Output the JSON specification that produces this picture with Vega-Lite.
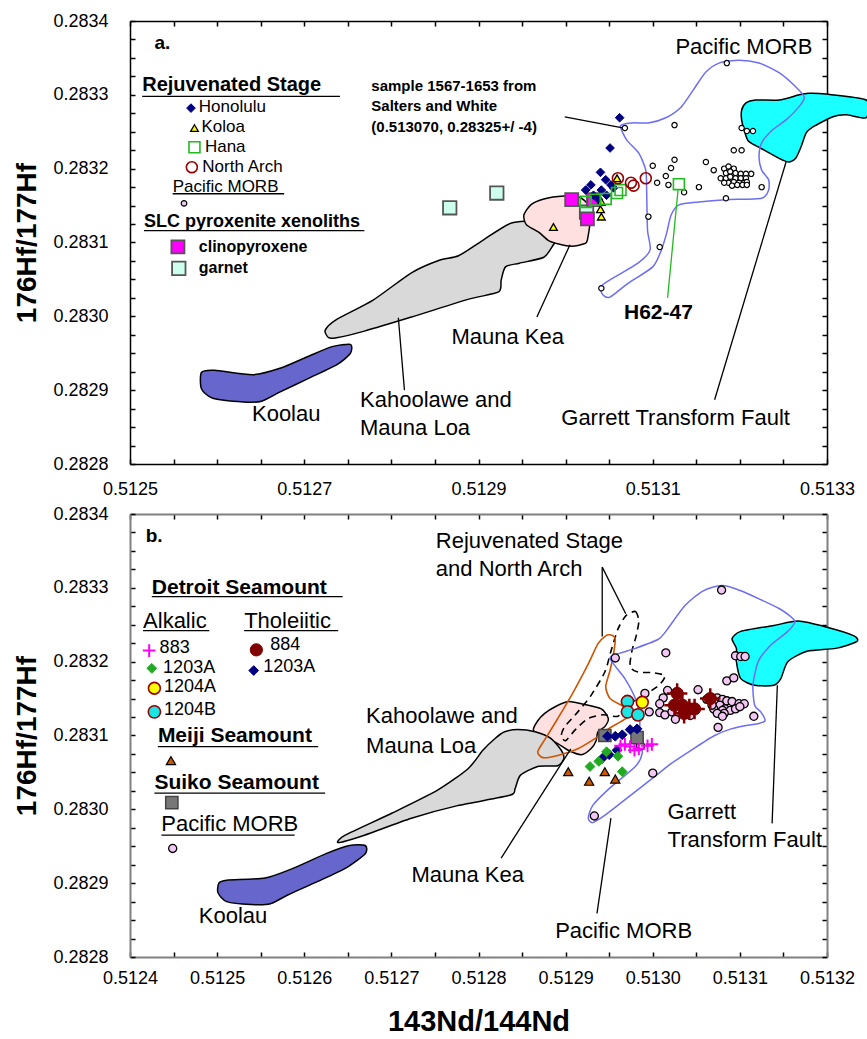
{
"$schema": "https://vega.github.io/schema/vega-lite/v6.json",
"padding": {"left": 13, "top": 12, "right": 0, "bottom": 0},
"spacing": 7,
"config": {"view": {"stroke": null}, "font": "Liberation Sans",
  "axis": {"grid": false, "labelFont": "Liberation Sans", "titleFont": "Liberation Sans", "labelColor": "black", "titleColor": "black", "labelOverlap": false, "labelFlush": false, "labelFontSize": 18, "tickColor": "black", "domainColor": "black", "tickSize": -5, "tickWidth": 1.5, "domainWidth": 1.5}},
"datasets": {
"polyA": [
{"s":"koolau","o":1,"x":0.512582,"y":0.282924},{"s":"koolau","o":2,"x":0.512597,"y":0.282927},{"s":"koolau","o":3,"x":0.512641,"y":0.282921},{"s":"koolau","o":4,"x":0.512673,"y":0.28293},{"s":"koolau","o":5,"x":0.512705,"y":0.282946},{"s":"koolau","o":6,"x":0.512732,"y":0.282959},{"s":"koolau","o":7,"x":0.512753,"y":0.282962},{"s":"koolau","o":8,"x":0.512753,"y":0.28295},{"s":"koolau","o":9,"x":0.512738,"y":0.282935},{"s":"koolau","o":10,"x":0.512705,"y":0.282916},{"s":"koolau","o":11,"x":0.512673,"y":0.282898},{"s":"koolau","o":12,"x":0.512651,"y":0.282885},{"s":"koolau","o":13,"x":0.51263,"y":0.282884},{"s":"koolau","o":14,"x":0.512595,"y":0.282889},{"s":"koolau","o":15,"x":0.512582,"y":0.282902},
{"s":"gray","o":1,"x":0.512728,"y":0.282971},{"s":"gray","o":2,"x":0.512724,"y":0.282981},{"s":"gray","o":3,"x":0.512736,"y":0.282995},{"s":"gray","o":4,"x":0.512779,"y":0.283022},{"s":"gray","o":5,"x":0.512823,"y":0.283059},{"s":"gray","o":6,"x":0.512855,"y":0.283076},{"s":"gray","o":7,"x":0.512877,"y":0.283082},{"s":"gray","o":8,"x":0.512905,"y":0.283103},{"s":"gray","o":9,"x":0.512937,"y":0.283126},{"s":"gray","o":10,"x":0.512969,"y":0.283128},{"s":"gray","o":11,"x":0.512992,"y":0.28311},{"s":"gray","o":12,"x":0.512986,"y":0.283097},{"s":"gray","o":13,"x":0.512975,"y":0.28308},{"s":"gray","o":14,"x":0.512947,"y":0.283072},{"s":"gray","o":15,"x":0.512931,"y":0.283067},{"s":"gray","o":16,"x":0.512926,"y":0.283049},{"s":"gray","o":17,"x":0.512923,"y":0.283033},{"s":"gray","o":18,"x":0.512888,"y":0.283023},{"s":"gray","o":19,"x":0.512823,"y":0.282999},{"s":"gray","o":20,"x":0.512769,"y":0.28298},{"s":"gray","o":21,"x":0.512737,"y":0.282971},
{"s":"pink","o":1,"x":0.512952,"y":0.283137},{"s":"pink","o":2,"x":0.51296,"y":0.283151},{"s":"pink","o":3,"x":0.512975,"y":0.283159},{"s":"pink","o":4,"x":0.512998,"y":0.283163},{"s":"pink","o":5,"x":0.513015,"y":0.283162},{"s":"pink","o":6,"x":0.513026,"y":0.283151},{"s":"pink","o":7,"x":0.513028,"y":0.28313},{"s":"pink","o":8,"x":0.513026,"y":0.28311},{"s":"pink","o":9,"x":0.513023,"y":0.283099},{"s":"pink","o":10,"x":0.513007,"y":0.283095},{"s":"pink","o":11,"x":0.512992,"y":0.283098},{"s":"pink","o":12,"x":0.51298,"y":0.283103},{"s":"pink","o":13,"x":0.512969,"y":0.283114},{"s":"pink","o":14,"x":0.512955,"y":0.283124},
{"s":"cyan","o":1,"x":0.513202,"y":0.283279},{"s":"cyan","o":2,"x":0.513207,"y":0.283289},{"s":"cyan","o":3,"x":0.513218,"y":0.283293},{"s":"cyan","o":4,"x":0.513245,"y":0.283293},{"s":"cyan","o":5,"x":0.513268,"y":0.2833},{"s":"cyan","o":6,"x":0.513279,"y":0.283302},{"s":"cyan","o":7,"x":0.513299,"y":0.283301},{"s":"cyan","o":8,"x":0.513345,"y":0.283293},{"s":"cyan","o":9,"x":0.513345,"y":0.283269},{"s":"cyan","o":10,"x":0.513322,"y":0.283273},{"s":"cyan","o":11,"x":0.513306,"y":0.28327},{"s":"cyan","o":12,"x":0.513283,"y":0.283256},{"s":"cyan","o":13,"x":0.513276,"y":0.283248},{"s":"cyan","o":14,"x":0.51327,"y":0.283229},{"s":"cyan","o":15,"x":0.513264,"y":0.283214},{"s":"cyan","o":16,"x":0.513256,"y":0.283209},{"s":"cyan","o":17,"x":0.513245,"y":0.283214},{"s":"cyan","o":18,"x":0.513225,"y":0.283227},{"s":"cyan","o":19,"x":0.51321,"y":0.283237},{"s":"cyan","o":20,"x":0.513205,"y":0.283252},{"s":"cyan","o":21,"x":0.513202,"y":0.283266},
{"s":"morb","o":1,"x":0.513063,"y":0.283258},{"s":"morb","o":2,"x":0.51307,"y":0.283239},{"s":"morb","o":3,"x":0.513084,"y":0.283221},{"s":"morb","o":4,"x":0.513092,"y":0.283198},{"s":"morb","o":5,"x":0.513093,"y":0.283171},{"s":"morb","o":6,"x":0.513094,"y":0.283117},{"s":"morb","o":7,"x":0.513097,"y":0.28309},{"s":"morb","o":8,"x":0.513083,"y":0.283072},{"s":"morb","o":9,"x":0.513056,"y":0.283053},{"s":"morb","o":10,"x":0.51304,"y":0.28304},{"s":"morb","o":11,"x":0.513043,"y":0.283029},{"s":"morb","o":12,"x":0.513051,"y":0.283026},{"s":"morb","o":13,"x":0.513072,"y":0.283045},{"s":"morb","o":14,"x":0.5131,"y":0.283067},{"s":"morb","o":15,"x":0.51311,"y":0.28309},{"s":"morb","o":16,"x":0.513116,"y":0.283113},{"s":"morb","o":17,"x":0.513121,"y":0.283137},{"s":"morb","o":18,"x":0.51313,"y":0.283151},{"s":"morb","o":19,"x":0.513153,"y":0.283155},{"s":"morb","o":20,"x":0.513184,"y":0.283158},{"s":"morb","o":21,"x":0.513225,"y":0.28316},{"s":"morb","o":22,"x":0.513233,"y":0.283171},{"s":"morb","o":23,"x":0.513233,"y":0.283185},{"s":"morb","o":24,"x":0.513225,"y":0.283198},{"s":"morb","o":25,"x":0.513222,"y":0.283216},{"s":"morb","o":26,"x":0.513225,"y":0.283235},{"s":"morb","o":27,"x":0.513237,"y":0.283252},{"s":"morb","o":28,"x":0.513253,"y":0.283266},{"s":"morb","o":29,"x":0.513268,"y":0.283284},{"s":"morb","o":30,"x":0.513274,"y":0.283297},{"s":"morb","o":31,"x":0.513264,"y":0.283311},{"s":"morb","o":32,"x":0.513245,"y":0.28333},{"s":"morb","o":33,"x":0.513222,"y":0.283343},{"s":"morb","o":34,"x":0.513199,"y":0.283347},{"s":"morb","o":35,"x":0.513176,"y":0.283343},{"s":"morb","o":36,"x":0.513161,"y":0.283331},{"s":"morb","o":37,"x":0.513149,"y":0.283311},{"s":"morb","o":38,"x":0.513133,"y":0.283284},{"s":"morb","o":39,"x":0.513115,"y":0.283269},{"s":"morb","o":40,"x":0.513095,"y":0.283262},{"s":"morb","o":41,"x":0.513076,"y":0.283262}
],
"ptsA": [
{"s":"garnet","x":0.512867,"y":0.283147},{"s":"garnet","x":0.512921,"y":0.283167},{"s":"garnet","x":0.513024,"y":0.283141},{"s":"garnet","x":0.512556,"y":0.283065},
{"s":"cpx","x":0.513007,"y":0.283158},{"s":"cpx","x":0.513032,"y":0.283158},{"s":"cpx","x":0.513025,"y":0.283132},{"s":"cpx","x":0.512555,"y":0.283094},
{"s":"honolulu","x":0.513062,"y":0.283269},{"s":"honolulu","x":0.513051,"y":0.283228},{"s":"honolulu","x":0.51304,"y":0.283195},{"s":"honolulu","x":0.513029,"y":0.283178},{"s":"honolulu","x":0.513023,"y":0.283171},{"s":"honolulu","x":0.513046,"y":0.283185},{"s":"honolulu","x":0.513052,"y":0.283178},{"s":"honolulu","x":0.513055,"y":0.283174},{"s":"honolulu","x":0.513041,"y":0.283171},{"s":"honolulu","x":0.513047,"y":0.283164},{"s":"honolulu","x":0.513038,"y":0.283158},{"s":"honolulu","x":0.513032,"y":0.283164},{"s":"honolulu","x":0.51257,"y":0.283282},
{"s":"koloa","x":0.513059,"y":0.283187},{"s":"koloa","x":0.513041,"y":0.283155},{"s":"koloa","x":0.51304,"y":0.283145},{"s":"koloa","x":0.513041,"y":0.283135},{"s":"koloa","x":0.512986,"y":0.283121},{"s":"koloa","x":0.512574,"y":0.283255},
{"s":"hana","x":0.51313,"y":0.283179},{"s":"hana","x":0.513059,"y":0.283167},{"s":"hana","x":0.513063,"y":0.283171},{"s":"hana","x":0.513046,"y":0.283159},{"s":"hana","x":0.513034,"y":0.283158},{"s":"hana","x":0.513023,"y":0.283155},{"s":"hana","x":0.512574,"y":0.283229},
{"s":"narch","x":0.51306,"y":0.283187},{"s":"narch","x":0.513075,"y":0.283181},{"s":"narch","x":0.513078,"y":0.283177},{"s":"narch","x":0.513092,"y":0.283187},{"s":"narch","x":0.512571,"y":0.283202},
{"s":"morbkey","x":0.512562,"y":0.283153},
{"s":"morb","x":0.513185,"y":0.283343},{"s":"morb","x":0.513125,"y":0.283259},{"s":"morb","x":0.513068,"y":0.283255},{"s":"morb","x":0.513202,"y":0.283255},{"s":"morb","x":0.513208,"y":0.283251},{"s":"morb","x":0.513215,"y":0.283251},{"s":"morb","x":0.513193,"y":0.283225},{"s":"morb","x":0.513202,"y":0.283225},{"s":"morb","x":0.513125,"y":0.283212},{"s":"morb","x":0.5131,"y":0.283204},{"s":"morb","x":0.513121,"y":0.283201},{"s":"morb","x":0.513161,"y":0.283209},{"s":"morb","x":0.513115,"y":0.28319},{"s":"morb","x":0.51317,"y":0.283198},{"s":"morb","x":0.513213,"y":0.283193},{"s":"morb","x":0.513105,"y":0.283181},{"s":"morb","x":0.513118,"y":0.283178},{"s":"morb","x":0.513136,"y":0.283168},{"s":"morb","x":0.513153,"y":0.283175},{"s":"morb","x":0.513225,"y":0.283175},{"s":"morb","x":0.513184,"y":0.28316},{"s":"morb","x":0.513095,"y":0.283135},{"s":"morb","x":0.513108,"y":0.283094},{"s":"morb","x":0.513041,"y":0.283038},
{"s":"morb","x":0.513182,"y":0.2832},{"s":"morb","x":0.513187,"y":0.283203},{"s":"morb","x":0.513193,"y":0.2832},{"s":"morb","x":0.513184,"y":0.283194},{"s":"morb","x":0.513189,"y":0.283196},{"s":"morb","x":0.513195,"y":0.283194},{"s":"morb","x":0.513201,"y":0.283193},{"s":"morb","x":0.513207,"y":0.283193},{"s":"morb","x":0.513178,"y":0.283187},{"s":"morb","x":0.513184,"y":0.283187},{"s":"morb","x":0.513189,"y":0.283189},{"s":"morb","x":0.513195,"y":0.283187},{"s":"morb","x":0.513201,"y":0.283187},{"s":"morb","x":0.513207,"y":0.283187},{"s":"morb","x":0.513187,"y":0.283181},{"s":"morb","x":0.513193,"y":0.283182},{"s":"morb","x":0.513199,"y":0.283181},{"s":"morb","x":0.513205,"y":0.283181},{"s":"morb","x":0.513208,"y":0.283182},{"s":"morb","x":0.513191,"y":0.283177},{"s":"morb","x":0.513197,"y":0.283178},{"s":"morb","x":0.513203,"y":0.283178},{"s":"morb","x":0.513208,"y":0.283178},{"s":"morb","x":0.513182,"y":0.283181}
],
"textA": [
{"t":"a.","x":0.512528,"y":0.28337,"r":"panel"},
{"t":"Pacific MORB","x":0.513126,"y":0.283365,"r":"label"},
{"t":"Rejuvenated Stage","x":0.512514,"y":0.283313,"r":"head"},
{"t":"Honolulu","x":0.512579,"y":0.283284,"r":"key"},
{"t":"Koloa","x":0.512582,"y":0.283256,"r":"key"},
{"t":"Hana","x":0.512586,"y":0.283229,"r":"key"},
{"t":"North Arch","x":0.512583,"y":0.283202,"r":"key"},
{"t":"Pacific MORB","x":0.512549,"y":0.283175,"r":"key"},
{"t":"SLC pyroxenite xenoliths","x":0.512516,"y":0.283128,"r":"head2"},
{"t":"clinopyroxene","x":0.512579,"y":0.283094,"r":"keybold"},
{"t":"garnet","x":0.512579,"y":0.283065,"r":"keybold"},
{"t":"sample 1567-1653 from","x":0.512777,"y":0.283312,"r":"note"},
{"t":"Salters and White","x":0.512777,"y":0.283285,"r":"note"},
{"t":"(0.513070, 0.28325+/ -4)","x":0.512777,"y":0.283256,"r":"note"},
{"t":"H62-47","x":0.513067,"y":0.283004,"r":"h62"},
{"t":"Mauna Kea","x":0.512869,"y":0.282972,"r":"label"},
{"t":"Kahoolawe and","x":0.512764,"y":0.282887,"r":"label"},
{"t":"Mauna Loa","x":0.512764,"y":0.282849,"r":"label"},
{"t":"Koolau","x":0.51264,"y":0.282868,"r":"label"},
{"t":"Garrett Transform Fault","x":0.512995,"y":0.282862,"r":"label"}
],
"linesA": [
{"x":0.512999,"y":0.28327,"x2":0.513067,"y2":0.283255,"r":"leader"},
{"x":0.513129,"y":0.283171,"x2":0.513117,"y2":0.283025,"r":"green"},
{"x":0.513005,"y":0.283097,"x2":0.512967,"y2":0.282999,"r":"leader"},
{"x":0.512808,"y":0.282998,"x2":0.512815,"y2":0.2829,"r":"leader"},
{"x":0.513253,"y":0.283209,"x2":0.513171,"y2":0.282887,"r":"leader"},
{"x":0.512514,"y":0.283298,"x2":0.512741,"y2":0.283298,"r":"under"},
{"x":0.512549,"y":0.283166,"x2":0.512677,"y2":0.283166,"r":"under"},
{"x":0.512516,"y":0.283116,"x2":0.512769,"y2":0.283116,"r":"under"}
],
"polyB": [
{"s":"pink","o":1,"x":0.512868,"y":0.28312},{"s":"pink","o":2,"x":0.512876,"y":0.28313},{"s":"pink","o":3,"x":0.512888,"y":0.283139},{"s":"pink","o":4,"x":0.512903,"y":0.283146},{"s":"pink","o":5,"x":0.512918,"y":0.283143},{"s":"pink","o":6,"x":0.512941,"y":0.283136},{"s":"pink","o":7,"x":0.512949,"y":0.283123},{"s":"pink","o":8,"x":0.512945,"y":0.283112},{"s":"pink","o":9,"x":0.512937,"y":0.283105},{"s":"pink","o":10,"x":0.512935,"y":0.283093},{"s":"pink","o":11,"x":0.512929,"y":0.283082},{"s":"pink","o":12,"x":0.512918,"y":0.283074},{"s":"pink","o":13,"x":0.512903,"y":0.28308},{"s":"pink","o":14,"x":0.512891,"y":0.283089},{"s":"pink","o":15,"x":0.512874,"y":0.283099},{"s":"pink","o":16,"x":0.512863,"y":0.283107},
{"s":"gray","o":1,"x":0.512639,"y":0.282955},{"s":"gray","o":2,"x":0.512647,"y":0.282965},{"s":"gray","o":3,"x":0.512701,"y":0.282995},{"s":"gray","o":4,"x":0.512753,"y":0.283026},{"s":"gray","o":5,"x":0.512788,"y":0.283055},{"s":"gray","o":6,"x":0.512805,"y":0.28308},{"s":"gray","o":7,"x":0.512819,"y":0.283096},{"s":"gray","o":8,"x":0.51283,"y":0.283105},{"s":"gray","o":9,"x":0.512845,"y":0.283108},{"s":"gray","o":10,"x":0.512865,"y":0.283105},{"s":"gray","o":11,"x":0.512883,"y":0.283096},{"s":"gray","o":12,"x":0.512895,"y":0.28308},{"s":"gray","o":13,"x":0.512898,"y":0.283069},{"s":"gray","o":14,"x":0.512891,"y":0.283059},{"s":"gray","o":15,"x":0.512868,"y":0.283058},{"s":"gray","o":16,"x":0.512848,"y":0.283046},{"s":"gray","o":17,"x":0.512842,"y":0.283028},{"s":"gray","o":18,"x":0.512836,"y":0.283019},{"s":"gray","o":19,"x":0.512776,"y":0.283005},{"s":"gray","o":20,"x":0.512723,"y":0.282988},{"s":"gray","o":21,"x":0.512669,"y":0.282965},
{"s":"koolau","o":1,"x":0.512502,"y":0.2829},{"s":"koolau","o":2,"x":0.512511,"y":0.282904},{"s":"koolau","o":3,"x":0.512555,"y":0.282907},{"s":"koolau","o":4,"x":0.512587,"y":0.28292},{"s":"koolau","o":5,"x":0.512625,"y":0.28294},{"s":"koolau","o":6,"x":0.512652,"y":0.282951},{"s":"koolau","o":7,"x":0.51267,"y":0.282951},{"s":"koolau","o":8,"x":0.51267,"y":0.28294},{"s":"koolau","o":9,"x":0.512647,"y":0.28292},{"s":"koolau","o":10,"x":0.512615,"y":0.282902},{"s":"koolau","o":11,"x":0.512581,"y":0.282884},{"s":"koolau","o":12,"x":0.512561,"y":0.282872},{"s":"koolau","o":13,"x":0.512539,"y":0.282871},{"s":"koolau","o":14,"x":0.512511,"y":0.282875},{"s":"koolau","o":15,"x":0.512501,"y":0.282887},
{"s":"cyan","o":1,"x":0.513091,"y":0.283231},{"s":"cyan","o":2,"x":0.513101,"y":0.283241},{"s":"cyan","o":3,"x":0.513139,"y":0.283249},{"s":"cyan","o":4,"x":0.513167,"y":0.283255},{"s":"cyan","o":5,"x":0.513199,"y":0.283247},{"s":"cyan","o":6,"x":0.513231,"y":0.283235},{"s":"cyan","o":7,"x":0.513234,"y":0.283227},{"s":"cyan","o":8,"x":0.51321,"y":0.283218},{"s":"cyan","o":9,"x":0.513177,"y":0.283214},{"s":"cyan","o":10,"x":0.513155,"y":0.2832},{"s":"cyan","o":11,"x":0.513147,"y":0.283177},{"s":"cyan","o":12,"x":0.513139,"y":0.283168},{"s":"cyan","o":13,"x":0.513117,"y":0.283168},{"s":"cyan","o":14,"x":0.513101,"y":0.283177},{"s":"cyan","o":15,"x":0.513096,"y":0.2832},{"s":"cyan","o":16,"x":0.513096,"y":0.283218},
{"s":"rsna","o":1,"x":0.512969,"y":0.283262},{"s":"rsna","o":2,"x":0.51298,"y":0.283268},{"s":"rsna","o":3,"x":0.512984,"y":0.283255},{"s":"rsna","o":4,"x":0.512981,"y":0.283235},{"s":"rsna","o":5,"x":0.512976,"y":0.283214},{"s":"rsna","o":6,"x":0.512974,"y":0.283193},{"s":"rsna","o":7,"x":0.512983,"y":0.283186},{"s":"rsna","o":8,"x":0.513,"y":0.283185},{"s":"rsna","o":9,"x":0.513014,"y":0.283181},{"s":"rsna","o":10,"x":0.513008,"y":0.283169},{"s":"rsna","o":11,"x":0.512995,"y":0.283158},{"s":"rsna","o":12,"x":0.512983,"y":0.28315},{"s":"rsna","o":13,"x":0.512969,"y":0.283139},{"s":"rsna","o":14,"x":0.51296,"y":0.283126},{"s":"rsna","o":15,"x":0.512943,"y":0.283128},{"s":"rsna","o":16,"x":0.512926,"y":0.283123},{"s":"rsna","o":17,"x":0.512912,"y":0.283109},{"s":"rsna","o":18,"x":0.5129,"y":0.283093},{"s":"rsna","o":19,"x":0.512895,"y":0.2831},{"s":"rsna","o":20,"x":0.512899,"y":0.283112},{"s":"rsna","o":21,"x":0.512914,"y":0.283132},{"s":"rsna","o":22,"x":0.512929,"y":0.283154},{"s":"rsna","o":23,"x":0.512945,"y":0.283186},{"s":"rsna","o":24,"x":0.512952,"y":0.283214},{"s":"rsna","o":25,"x":0.51296,"y":0.283244},
{"s":"meiji","o":1,"x":0.512952,"y":0.283236},{"s":"meiji","o":2,"x":0.512957,"y":0.283231},{"s":"meiji","o":3,"x":0.512955,"y":0.283211},{"s":"meiji","o":4,"x":0.512951,"y":0.283188},{"s":"meiji","o":5,"x":0.512946,"y":0.283166},{"s":"meiji","o":6,"x":0.512951,"y":0.28315},{"s":"meiji","o":7,"x":0.512964,"y":0.283141},{"s":"meiji","o":8,"x":0.512977,"y":0.283134},{"s":"meiji","o":9,"x":0.512969,"y":0.283123},{"s":"meiji","o":10,"x":0.512949,"y":0.283109},{"s":"meiji","o":11,"x":0.512934,"y":0.283096},{"s":"meiji","o":12,"x":0.512914,"y":0.283082},{"s":"meiji","o":13,"x":0.512891,"y":0.283073},{"s":"meiji","o":14,"x":0.512874,"y":0.28307},{"s":"meiji","o":15,"x":0.512868,"y":0.283078},{"s":"meiji","o":16,"x":0.512877,"y":0.283096},{"s":"meiji","o":17,"x":0.512891,"y":0.283123},{"s":"meiji","o":18,"x":0.512908,"y":0.283157},{"s":"meiji","o":19,"x":0.512926,"y":0.283197},{"s":"meiji","o":20,"x":0.512937,"y":0.283224},{"s":"meiji","o":21,"x":0.512946,"y":0.283235},
{"s":"morb","o":1,"x":0.512952,"y":0.283207},{"s":"morb","o":2,"x":0.51298,"y":0.283218},{"s":"morb","o":3,"x":0.513006,"y":0.28323},{"s":"morb","o":4,"x":0.513015,"y":0.283241},{"s":"morb","o":5,"x":0.513037,"y":0.283276},{"s":"morb","o":6,"x":0.513058,"y":0.283296},{"s":"morb","o":7,"x":0.513079,"y":0.283303},{"s":"morb","o":8,"x":0.513101,"y":0.283296},{"s":"morb","o":9,"x":0.513145,"y":0.283272},{"s":"morb","o":10,"x":0.513163,"y":0.283255},{"s":"morb","o":11,"x":0.513155,"y":0.283241},{"s":"morb","o":12,"x":0.513135,"y":0.283222},{"s":"morb","o":13,"x":0.513121,"y":0.2832},{"s":"morb","o":14,"x":0.513115,"y":0.283168},{"s":"morb","o":15,"x":0.513117,"y":0.283141},{"s":"morb","o":16,"x":0.513124,"y":0.283132},{"s":"morb","o":17,"x":0.513129,"y":0.28312},{"s":"morb","o":18,"x":0.513121,"y":0.283116},{"s":"morb","o":19,"x":0.513109,"y":0.283114},{"s":"morb","o":20,"x":0.51309,"y":0.283109},{"s":"morb","o":21,"x":0.513071,"y":0.2831},{"s":"morb","o":22,"x":0.513044,"y":0.28308},{"s":"morb","o":23,"x":0.513021,"y":0.283062},{"s":"morb","o":24,"x":0.513004,"y":0.283046},{"s":"morb","o":25,"x":0.512966,"y":0.283011},{"s":"morb","o":26,"x":0.512944,"y":0.282991},{"s":"morb","o":27,"x":0.512931,"y":0.282982},{"s":"morb","o":28,"x":0.512926,"y":0.282988},{"s":"morb","o":29,"x":0.512931,"y":0.283005},{"s":"morb","o":30,"x":0.51295,"y":0.283028},{"s":"morb","o":31,"x":0.51298,"y":0.283058},{"s":"morb","o":32,"x":0.512988,"y":0.283076},{"s":"morb","o":33,"x":0.512985,"y":0.283096},{"s":"morb","o":34,"x":0.512985,"y":0.283123},{"s":"morb","o":35,"x":0.51298,"y":0.28315},{"s":"morb","o":36,"x":0.512968,"y":0.283177},{"s":"morb","o":37,"x":0.512955,"y":0.283197}
],
"ptsB": [
{"s":"morb","x":0.513079,"y":0.283297},{"s":"morb","x":0.512957,"y":0.283205},{"s":"morb","x":0.513015,"y":0.283212},{"s":"morb","x":0.513095,"y":0.283208},{"s":"morb","x":0.513101,"y":0.283207},{"s":"morb","x":0.513106,"y":0.283207},{"s":"morb","x":0.513085,"y":0.283174},{"s":"morb","x":0.513093,"y":0.283178},{"s":"morb","x":0.513052,"y":0.283162},{"s":"morb","x":0.513017,"y":0.283161},{"s":"morb","x":0.513012,"y":0.283151},{"s":"morb","x":0.513008,"y":0.283143},{"s":"morb","x":0.513008,"y":0.283131},{"s":"morb","x":0.513014,"y":0.283128},{"s":"morb","x":0.513022,"y":0.283132},{"s":"morb","x":0.513026,"y":0.283122},{"s":"morb","x":0.513043,"y":0.283127},{"s":"morb","x":0.512996,"y":0.283132},{"s":"morb","x":0.512991,"y":0.283157},{"s":"morb","x":0.513116,"y":0.283126},{"s":"morb","x":0.513075,"y":0.283111},{"s":"morb","x":0.512986,"y":0.283086},{"s":"morb","x":0.513,"y":0.283049},{"s":"morb","x":0.512933,"y":0.282991},
{"s":"morb","x":0.513062,"y":0.283149},{"s":"morb","x":0.513068,"y":0.283151},{"s":"morb","x":0.513074,"y":0.283151},{"s":"morb","x":0.51308,"y":0.283149},{"s":"morb","x":0.513085,"y":0.283147},{"s":"morb","x":0.513091,"y":0.283146},{"s":"morb","x":0.513099,"y":0.283143},{"s":"morb","x":0.513105,"y":0.283143},{"s":"morb","x":0.513072,"y":0.283143},{"s":"morb","x":0.513077,"y":0.283141},{"s":"morb","x":0.513083,"y":0.283136},{"s":"morb","x":0.513089,"y":0.283134},{"s":"morb","x":0.513095,"y":0.283136},{"s":"morb","x":0.5131,"y":0.283139},{"s":"morb","x":0.51307,"y":0.283136},{"s":"morb","x":0.51308,"y":0.283134},{"s":"morb","x":0.513082,"y":0.28313},{"s":"morb","x":0.513074,"y":0.28313},{"s":"morb","x":0.513068,"y":0.283141},{"s":"morb","x":0.51308,"y":0.283126},
{"s":"morb","x":0.512449,"y":0.282947},
{"s":"t884","x":0.513028,"y":0.283157},{"s":"t884","x":0.513025,"y":0.283141},{"s":"t884","x":0.513034,"y":0.283141},{"s":"t884","x":0.513042,"y":0.283136},{"s":"t884","x":0.513048,"y":0.283136},{"s":"t884","x":0.513036,"y":0.28313},{"s":"t884","x":0.513066,"y":0.28315},
{"s":"k884","x":0.512545,"y":0.283216},
{"s":"suiko","x":0.512945,"y":0.2831},{"s":"suiko","x":0.512982,"y":0.283097},{"s":"suiko","x":0.512448,"y":0.283009},
{"s":"t1203","x":0.512982,"y":0.283109},{"s":"t1203","x":0.512974,"y":0.283108},{"s":"t1203","x":0.512965,"y":0.283101},{"s":"t1203","x":0.512957,"y":0.283099},{"s":"t1203","x":0.512948,"y":0.283099},{"s":"t1203","x":0.512959,"y":0.28308},{"s":"t1203","x":0.51295,"y":0.283074},{"s":"t1203","x":0.512942,"y":0.283069},{"s":"t1203","x":0.512542,"y":0.283188},
{"s":"a1203","x":0.512947,"y":0.283078},{"s":"a1203","x":0.512938,"y":0.283065},{"s":"a1203","x":0.51296,"y":0.283072},{"s":"a1203","x":0.512965,"y":0.283051},{"s":"a1203","x":0.512928,"y":0.283058},{"s":"a1203","x":0.512425,"y":0.283191},
{"s":"meiji","x":0.512903,"y":0.283051},{"s":"meiji","x":0.512927,"y":0.283038},{"s":"meiji","x":0.512945,"y":0.283051},{"s":"meiji","x":0.512957,"y":0.283041},{"s":"meiji","x":0.512447,"y":0.283066},
{"s":"a883","x":0.512963,"y":0.283086},{"s":"a883","x":0.512968,"y":0.283088},{"s":"a883","x":0.512974,"y":0.283085},{"s":"a883","x":0.512979,"y":0.28308},{"s":"a883","x":0.512984,"y":0.283082},{"s":"a883","x":0.512994,"y":0.283086},{"s":"a883","x":0.512999,"y":0.283088},{"s":"a883","x":0.512422,"y":0.283215},
{"s":"a1204b","x":0.512971,"y":0.283146},{"s":"a1204b","x":0.512971,"y":0.283132},{"s":"a1204b","x":0.512983,"y":0.283128},{"s":"a1204b","x":0.512428,"y":0.283132},
{"s":"a1204a","x":0.512988,"y":0.283145},{"s":"a1204a","x":0.512428,"y":0.283164}
],
"textB": [
{"t":"b.","x":0.512418,"y":0.28337,"r":"panel"},
{"t":"Rejuvenated Stage","x":0.512751,"y":0.283364,"r":"label"},
{"t":"and North Arch","x":0.512751,"y":0.283326,"r":"label"},
{"t":"Detroit Seamount","x":0.512425,"y":0.2833,"r":"head"},
{"t":"Alkalic","x":0.512415,"y":0.283255,"r":"sub"},
{"t":"Tholeiitic","x":0.512531,"y":0.283255,"r":"sub"},
{"t":"883","x":0.512434,"y":0.283218,"r":"key"},
{"t":"1203A","x":0.512438,"y":0.283191,"r":"key"},
{"t":"1204A","x":0.512439,"y":0.283166,"r":"key"},
{"t":"1204B","x":0.512439,"y":0.283135,"r":"key"},
{"t":"884","x":0.512561,"y":0.283222,"r":"key"},
{"t":"1203A","x":0.512553,"y":0.283193,"r":"key"},
{"t":"Meiji Seamount","x":0.512432,"y":0.283099,"r":"head"},
{"t":"Suiko Seamount","x":0.512428,"y":0.283035,"r":"head"},
{"t":"Pacific MORB","x":0.512436,"y":0.28298,"r":"sub"},
{"t":"Kahoolawe and","x":0.512671,"y":0.283126,"r":"label"},
{"t":"Mauna Loa","x":0.512671,"y":0.283086,"r":"label"},
{"t":"Mauna Kea","x":0.512723,"y":0.282911,"r":"label"},
{"t":"Pacific MORB","x":0.512888,"y":0.282835,"r":"label"},
{"t":"Garrett","x":0.513017,"y":0.282997,"r":"label"},
{"t":"Transform Fault","x":0.513017,"y":0.282958,"r":"label"},
{"t":"Koolau","x":0.512479,"y":0.282855,"r":"label"}
],
"linesB": [
{"x":0.512942,"y":0.283328,"x2":0.512942,"y2":0.283234,"r":"leader"},
{"x":0.512942,"y":0.283328,"x2":0.512969,"y2":0.283265,"r":"leader"},
{"x":0.512906,"y":0.283082,"x2":0.512826,"y2":0.282934,"r":"leader"},
{"x":0.512952,"y":0.282988,"x2":0.512936,"y2":0.282859,"r":"leader"},
{"x":0.513143,"y":0.283168,"x2":0.513137,"y2":0.282981,"r":"leader"},
{"x":0.512425,"y":0.283288,"x2":0.512644,"y2":0.283288,"r":"under"},
{"x":0.512415,"y":0.283242,"x2":0.512491,"y2":0.283242,"r":"under"},
{"x":0.512531,"y":0.283242,"x2":0.512639,"y2":0.283242,"r":"under"},
{"x":0.512432,"y":0.283085,"x2":0.512616,"y2":0.283085,"r":"under"},
{"x":0.512428,"y":0.283022,"x2":0.512624,"y2":0.283022,"r":"under"},
{"x":0.512436,"y":0.282965,"x2":0.512589,"y2":0.282965,"r":"under"}
]
},
"vconcat": [
{
"width": 697, "height": 443,
"encoding": {
  "x": {"field": "x", "type": "quantitative", "scale": {"domain": [0.5125, 0.5133], "zero": false, "nice": false}, "axis": null},
  "y": {"field": "y", "type": "quantitative", "scale": {"domain": [0.2828, 0.2834], "zero": false, "nice": false}, "axis": null}
},
"layer": [
{"data": {"name": "polyA"}, "transform": [{"filter": "datum.s == 'gray'"}],
 "mark": {"type": "line", "interpolate": "cardinal-closed", "tension": 0.3, "fill": "#D9D9D9", "stroke": "black", "strokeWidth": 1.5},
 "encoding": {"order": {"field": "o", "type": "quantitative"}}},
{"data": {"name": "polyA"}, "transform": [{"filter": "datum.s == 'pink'"}],
 "mark": {"type": "line", "interpolate": "cardinal-closed", "tension": 0.3, "fill": "#FFE0E0", "stroke": "black", "strokeWidth": 1.5},
 "encoding": {"order": {"field": "o", "type": "quantitative"}}},
{"data": {"name": "polyA"}, "transform": [{"filter": "datum.s == 'koolau'"}],
 "mark": {"type": "line", "interpolate": "cardinal-closed", "tension": 0.3, "fill": "#6666CC", "stroke": "black", "strokeWidth": 1.5},
 "encoding": {"order": {"field": "o", "type": "quantitative"},
   "x": {"field": "x", "type": "quantitative", "scale": {"domain": [0.5125, 0.5133], "zero": false, "nice": false},
     "axis": {"orient": "bottom", "values": [0.5125,0.51255,0.5126,0.51265,0.5127,0.51275,0.5128,0.51285,0.5129,0.51295,0.513,0.51305,0.5131,0.51315,0.5132,0.51325,0.5133], "labelExpr": "abs((datum.value-0.5125)*5000 - round((datum.value-0.5125)*5000)) < 0.01 ? format(datum.value, '.4f') : ''", "labelPadding": 21, "title": null}},
   "y": {"field": "y", "type": "quantitative", "scale": {"domain": [0.2828, 0.2834], "zero": false, "nice": false},
     "axis": {"orient": "left", "values": [0.2828,0.282825,0.28285,0.282875,0.2829,0.282925,0.28295,0.282975,0.283,0.283025,0.28305,0.283075,0.2831,0.283125,0.28315,0.283175,0.2832,0.283225,0.28325,0.283275,0.2833,0.283325,0.28335,0.283375,0.2834], "labelExpr": "abs(datum.value*10000 - round(datum.value*10000)) < 0.01 ? format(datum.value, '.4f') : ''", "labelPadding": 27, "title": "176Hf/177Hf", "titleFontSize": 28, "titleFontWeight": "bold", "titlePadding": 11}}}},
{"data": {"name": "polyA"}, "transform": [{"filter": "datum.s == 'cyan'"}],
 "mark": {"type": "line", "interpolate": "cardinal-closed", "tension": 0.3, "fill": "#1AFFFF", "stroke": "black", "strokeWidth": 1.5},
 "encoding": {"order": {"field": "o", "type": "quantitative"},
   "x": {"field": "x", "type": "quantitative", "scale": {"domain": [0.5125, 0.5133], "zero": false, "nice": false},
     "axis": {"orient": "top", "values": [0.5125,0.51255,0.5126,0.51265,0.5127,0.51275,0.5128,0.51285,0.5129,0.51295,0.513,0.51305,0.5131,0.51315,0.5132,0.51325,0.5133], "labels": false, "title": null}},
   "y": {"field": "y", "type": "quantitative", "scale": {"domain": [0.2828, 0.2834], "zero": false, "nice": false},
     "axis": {"orient": "right", "values": [0.2828,0.282825,0.28285,0.282875,0.2829,0.282925,0.28295,0.282975,0.283,0.283025,0.28305,0.283075,0.2831,0.283125,0.28315,0.283175,0.2832,0.283225,0.28325,0.283275,0.2833,0.283325,0.28335,0.283375,0.2834], "labels": false, "title": null}}}},
{"data": {"name": "polyA"}, "transform": [{"filter": "datum.s == 'morb'"}],
 "mark": {"type": "line", "interpolate": "cardinal-closed", "tension": 0.3, "stroke": "#6E6EF2", "strokeWidth": 1.5},
 "encoding": {"order": {"field": "o", "type": "quantitative"}}},
{"data": {"name": "linesA"}, "transform": [{"filter": "datum.r == 'leader' || datum.r == 'under'"}],
 "mark": {"type": "rule", "color": "black", "strokeWidth": 1.3},
 "encoding": {"x2": {"field": "x2"}, "y2": {"field": "y2"}}},
{"data": {"name": "linesA"}, "transform": [{"filter": "datum.r == 'green'"}],
 "mark": {"type": "rule", "color": "#22BB22", "strokeWidth": 1.3},
 "encoding": {"x2": {"field": "x2"}, "y2": {"field": "y2"}}},
{"data": {"name": "ptsA"}, "transform": [{"filter": "datum.s == 'morb'"}],
 "mark": {"type": "point", "shape": "circle", "fill": "white", "stroke": "black", "strokeWidth": 1.2, "size": 28, "opacity": 1}},
{"data": {"name": "ptsA"}, "transform": [{"filter": "datum.s == 'morbkey'"}],
 "mark": {"type": "point", "shape": "circle", "fill": "#F0C8F0", "stroke": "black", "strokeWidth": 1.2, "size": 32, "opacity": 1}},
{"data": {"name": "ptsA"}, "transform": [{"filter": "datum.s == 'garnet'"}],
 "mark": {"type": "point", "shape": "square", "fill": "#CCFFEE", "stroke": "#555555", "strokeWidth": 1.8, "size": 180, "opacity": 1}},
{"data": {"name": "ptsA"}, "transform": [{"filter": "datum.s == 'cpx'"}],
 "mark": {"type": "point", "shape": "square", "fill": "#FF00FF", "stroke": "#555555", "strokeWidth": 1.8, "size": 170, "opacity": 1}},
{"data": {"name": "ptsA"}, "transform": [{"filter": "datum.s == 'honolulu'"}],
 "mark": {"type": "point", "shape": "diamond", "fill": "#000080", "stroke": "#000080", "strokeWidth": 1, "size": 75, "opacity": 1}},
{"data": {"name": "ptsA"}, "transform": [{"filter": "datum.s == 'koloa'"}],
 "mark": {"type": "point", "shape": "triangle-up", "fill": "#FFFF00", "stroke": "black", "strokeWidth": 1.3, "size": 60, "opacity": 1}},
{"data": {"name": "ptsA"}, "transform": [{"filter": "datum.s == 'hana'"}],
 "mark": {"type": "point", "shape": "square", "fill": null, "stroke": "#22BB22", "strokeWidth": 1.6, "size": 120, "opacity": 1}},
{"data": {"name": "ptsA"}, "transform": [{"filter": "datum.s == 'narch'"}],
 "mark": {"type": "point", "shape": "circle", "fill": null, "stroke": "#990000", "strokeWidth": 1.6, "size": 120, "opacity": 1}},
{"data": {"name": "textA"}, "transform": [{"filter": "datum.r == 'label'"}],
 "mark": {"type": "text", "align": "left", "baseline": "middle", "font": "Liberation Sans", "fontSize": 22, "color": "black"},
 "encoding": {"text": {"field": "t"}}},
{"data": {"name": "textA"}, "transform": [{"filter": "datum.r == 'panel'"}],
 "mark": {"type": "text", "align": "left", "baseline": "middle", "font": "Liberation Sans", "fontSize": 19, "fontWeight": "bold", "color": "black"},
 "encoding": {"text": {"field": "t"}}},
{"data": {"name": "textA"}, "transform": [{"filter": "datum.r == 'head'"}],
 "mark": {"type": "text", "align": "left", "baseline": "middle", "font": "Liberation Sans", "fontSize": 20, "fontWeight": "bold", "color": "black"},
 "encoding": {"text": {"field": "t"}}},
{"data": {"name": "textA"}, "transform": [{"filter": "datum.r == 'head2'"}],
 "mark": {"type": "text", "align": "left", "baseline": "middle", "font": "Liberation Sans", "fontSize": 18, "fontWeight": "bold", "color": "black"},
 "encoding": {"text": {"field": "t"}}},
{"data": {"name": "textA"}, "transform": [{"filter": "datum.r == 'key'"}],
 "mark": {"type": "text", "align": "left", "baseline": "middle", "font": "Liberation Sans", "fontSize": 17, "color": "black"},
 "encoding": {"text": {"field": "t"}}},
{"data": {"name": "textA"}, "transform": [{"filter": "datum.r == 'keybold'"}],
 "mark": {"type": "text", "align": "left", "baseline": "middle", "font": "Liberation Sans", "fontSize": 16, "fontWeight": "bold", "color": "black"},
 "encoding": {"text": {"field": "t"}}},
{"data": {"name": "textA"}, "transform": [{"filter": "datum.r == 'note'"}],
 "mark": {"type": "text", "align": "left", "baseline": "middle", "font": "Liberation Sans", "fontSize": 15, "fontWeight": "bold", "color": "black"},
 "encoding": {"text": {"field": "t"}}},
{"data": {"name": "textA"}, "transform": [{"filter": "datum.r == 'h62'"}],
 "mark": {"type": "text", "align": "left", "baseline": "middle", "font": "Liberation Sans", "fontSize": 21, "fontWeight": "bold", "color": "black"},
 "encoding": {"text": {"field": "t"}}}
]
},
{
"width": 697, "height": 443,
"encoding": {
  "x": {"field": "x", "type": "quantitative", "scale": {"domain": [0.5124, 0.5132], "zero": false, "nice": false}, "axis": null},
  "y": {"field": "y", "type": "quantitative", "scale": {"domain": [0.2828, 0.2834], "zero": false, "nice": false}, "axis": null}
},
"layer": [
{"data": {"name": "polyB"}, "transform": [{"filter": "datum.s == 'pink'"}],
 "mark": {"type": "line", "interpolate": "cardinal-closed", "tension": 0.3, "fill": "#FFE0E0", "stroke": "black", "strokeWidth": 1.5},
 "encoding": {"order": {"field": "o", "type": "quantitative"}}},
{"data": {"name": "polyB"}, "transform": [{"filter": "datum.s == 'gray'"}],
 "mark": {"type": "line", "interpolate": "cardinal-closed", "tension": 0.3, "fill": "#D9D9D9", "stroke": "black", "strokeWidth": 1.5},
 "encoding": {"order": {"field": "o", "type": "quantitative"}}},
{"data": {"name": "polyB"}, "transform": [{"filter": "datum.s == 'koolau'"}],
 "mark": {"type": "line", "interpolate": "cardinal-closed", "tension": 0.3, "fill": "#6666CC", "stroke": "black", "strokeWidth": 1.5},
 "encoding": {"order": {"field": "o", "type": "quantitative"},
   "x": {"field": "x", "type": "quantitative", "scale": {"domain": [0.5124, 0.5132], "zero": false, "nice": false},
     "axis": {"orient": "bottom", "values": [0.5124,0.51245,0.5125,0.51255,0.5126,0.51265,0.5127,0.51275,0.5128,0.51285,0.5129,0.51295,0.513,0.51305,0.5131,0.51315,0.5132], "labelExpr": "abs(datum.value*10000 - round(datum.value*10000)) < 0.01 ? format(datum.value, '.4f') : ''", "labelPadding": 17, "domainColor": "#808080", "domainWidth": 2, "title": "143Nd/144Nd", "titleFontSize": 29, "titleFontWeight": "bold", "titlePadding": 20}},
   "y": {"field": "y", "type": "quantitative", "scale": {"domain": [0.2828, 0.2834], "zero": false, "nice": false},
     "axis": {"orient": "left", "values": [0.2828,0.282825,0.28285,0.282875,0.2829,0.282925,0.28295,0.282975,0.283,0.283025,0.28305,0.283075,0.2831,0.283125,0.28315,0.283175,0.2832,0.283225,0.28325,0.283275,0.2833,0.283325,0.28335,0.283375,0.2834], "labelExpr": "abs(datum.value*10000 - round(datum.value*10000)) < 0.01 ? format(datum.value, '.4f') : ''", "labelPadding": 27, "domainColor": "#808080", "domainWidth": 2, "title": "176Hf/177Hf", "titleFontSize": 28, "titleFontWeight": "bold", "titlePadding": 11}}}},
{"data": {"name": "polyB"}, "transform": [{"filter": "datum.s == 'cyan'"}],
 "mark": {"type": "line", "interpolate": "cardinal-closed", "tension": 0.3, "fill": "#1AFFFF", "stroke": "black", "strokeWidth": 1.5},
 "encoding": {"order": {"field": "o", "type": "quantitative"},
   "x": {"field": "x", "type": "quantitative", "scale": {"domain": [0.5124, 0.5132], "zero": false, "nice": false},
     "axis": {"orient": "top", "values": [0.5124,0.51245,0.5125,0.51255,0.5126,0.51265,0.5127,0.51275,0.5128,0.51285,0.5129,0.51295,0.513,0.51305,0.5131,0.51315,0.5132], "labels": false, "domainColor": "#808080", "domainWidth": 2, "title": null}},
   "y": {"field": "y", "type": "quantitative", "scale": {"domain": [0.2828, 0.2834], "zero": false, "nice": false},
     "axis": {"orient": "right", "values": [0.2828,0.282825,0.28285,0.282875,0.2829,0.282925,0.28295,0.282975,0.283,0.283025,0.28305,0.283075,0.2831,0.283125,0.28315,0.283175,0.2832,0.283225,0.28325,0.283275,0.2833,0.283325,0.28335,0.283375,0.2834], "labels": false, "domainColor": "#808080", "domainWidth": 2, "title": null}}}},
{"data": {"name": "polyB"}, "transform": [{"filter": "datum.s == 'rsna'"}],
 "mark": {"type": "line", "interpolate": "cardinal-closed", "tension": 0.3, "stroke": "black", "strokeWidth": 1.6, "strokeDash": [7, 5]},
 "encoding": {"order": {"field": "o", "type": "quantitative"}}},
{"data": {"name": "polyB"}, "transform": [{"filter": "datum.s == 'meiji'"}],
 "mark": {"type": "line", "interpolate": "cardinal-closed", "tension": 0.3, "stroke": "#CC5500", "strokeWidth": 1.6},
 "encoding": {"order": {"field": "o", "type": "quantitative"}}},
{"data": {"name": "polyB"}, "transform": [{"filter": "datum.s == 'morb'"}],
 "mark": {"type": "line", "interpolate": "cardinal-closed", "tension": 0.3, "stroke": "#6E6EF2", "strokeWidth": 1.5},
 "encoding": {"order": {"field": "o", "type": "quantitative"}}},
{"data": {"name": "linesB"}, "mark": {"type": "rule", "color": "black", "strokeWidth": 1.3},
 "encoding": {"x2": {"field": "x2"}, "y2": {"field": "y2"}}},
{"data": {"name": "ptsB"}, "transform": [{"filter": "datum.s == 'morb'"}],
 "mark": {"type": "point", "shape": "circle", "fill": "#F2C8F2", "stroke": "black", "strokeWidth": 1.3, "size": 65, "opacity": 1}},
{"data": {"name": "ptsB"}, "transform": [{"filter": "datum.s == 't884'"}],
 "mark": {"type": "point", "shape": "M-1,0L1,0M0,-1L0,1", "fill": null, "stroke": "#800000", "strokeWidth": 2.5, "size": 420, "opacity": 1}},
{"data": {"name": "ptsB"}, "transform": [{"filter": "datum.s == 't884' || datum.s == 'k884'"}],
 "mark": {"type": "point", "shape": "circle", "fill": "#800000", "stroke": "#800000", "strokeWidth": 1, "size": 150, "opacity": 1}},
{"data": {"name": "ptsB"}, "transform": [{"filter": "datum.s == 'suiko'"}],
 "mark": {"type": "point", "shape": "square", "fill": "#777777", "stroke": "#444444", "strokeWidth": 1.5, "size": 150, "opacity": 1}},
{"data": {"name": "ptsB"}, "transform": [{"filter": "datum.s == 't1203'"}],
 "mark": {"type": "point", "shape": "diamond", "fill": "#000080", "stroke": "#000080", "strokeWidth": 1, "size": 95, "opacity": 1}},
{"data": {"name": "ptsB"}, "transform": [{"filter": "datum.s == 'a1203'"}],
 "mark": {"type": "point", "shape": "diamond", "fill": "#22AA22", "stroke": "#22AA22", "strokeWidth": 1, "size": 95, "opacity": 1}},
{"data": {"name": "ptsB"}, "transform": [{"filter": "datum.s == 'meiji'"}],
 "mark": {"type": "point", "shape": "triangle-up", "fill": "#CC5500", "stroke": "black", "strokeWidth": 1.2, "size": 85, "opacity": 1}},
{"data": {"name": "ptsB"}, "transform": [{"filter": "datum.s == 'a883'"}],
 "mark": {"type": "point", "shape": "M-1,0L1,0M0,-1L0,1", "fill": null, "stroke": "#FF00FF", "strokeWidth": 2, "size": 160, "opacity": 1}},
{"data": {"name": "ptsB"}, "transform": [{"filter": "datum.s == 'a1204b'"}],
 "mark": {"type": "point", "shape": "circle", "fill": "#1AE6E6", "stroke": "#990000", "strokeWidth": 1.6, "size": 150, "opacity": 1}},
{"data": {"name": "ptsB"}, "transform": [{"filter": "datum.s == 'a1204a'"}],
 "mark": {"type": "point", "shape": "circle", "fill": "#FFFF00", "stroke": "#990000", "strokeWidth": 1.6, "size": 140, "opacity": 1}},
{"data": {"name": "textB"}, "transform": [{"filter": "datum.r == 'label' || datum.r == 'sub'"}],
 "mark": {"type": "text", "align": "left", "baseline": "middle", "font": "Liberation Sans", "fontSize": 22, "color": "black"},
 "encoding": {"text": {"field": "t"}}},
{"data": {"name": "textB"}, "transform": [{"filter": "datum.r == 'panel'"}],
 "mark": {"type": "text", "align": "left", "baseline": "middle", "font": "Liberation Sans", "fontSize": 19, "fontWeight": "bold", "color": "black"},
 "encoding": {"text": {"field": "t"}}},
{"data": {"name": "textB"}, "transform": [{"filter": "datum.r == 'head'"}],
 "mark": {"type": "text", "align": "left", "baseline": "middle", "font": "Liberation Sans", "fontSize": 21, "fontWeight": "bold", "color": "black"},
 "encoding": {"text": {"field": "t"}}},
{"data": {"name": "textB"}, "transform": [{"filter": "datum.r == 'key'"}],
 "mark": {"type": "text", "align": "left", "baseline": "middle", "font": "Liberation Sans", "fontSize": 18, "color": "black"},
 "encoding": {"text": {"field": "t"}}}
]
}
]
}
